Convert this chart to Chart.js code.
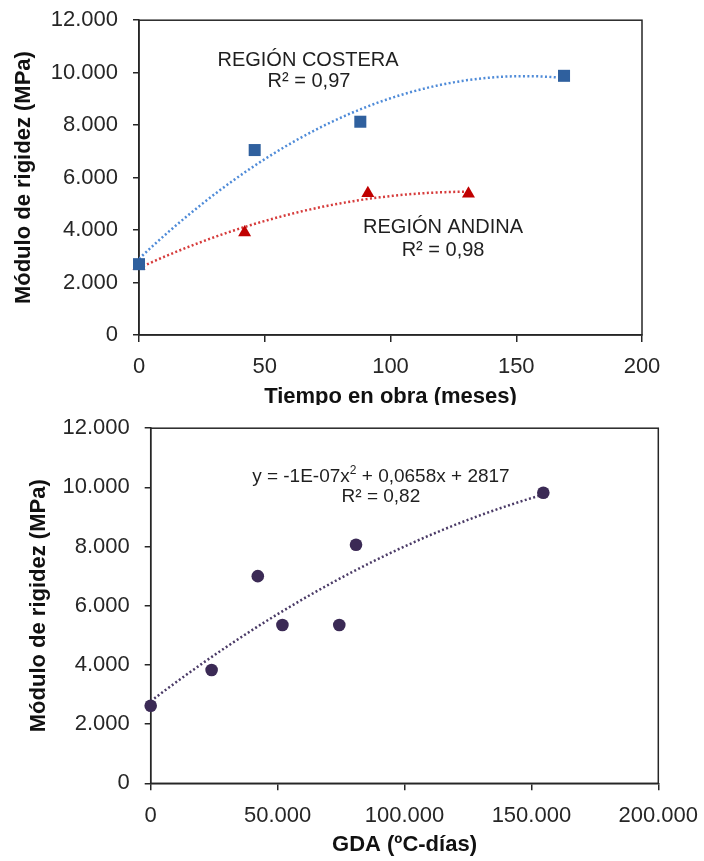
<!DOCTYPE html>
<html>
<head>
<meta charset="utf-8">
<script src="https://cdn.jsdelivr.net/npm/chart.js@4.4.1/dist/chart.umd.min.js"></script>
<style>
  body { margin: 0; background: #fff; width: 704px; height: 861px; overflow: hidden; position: relative; }
  #arriba { position: absolute; left: 0; top: 0; width: 704px; height: 405px; overflow: hidden; }
  #arriba canvas { position: absolute; left: 0; top: -8px; }
  #abajo { position: absolute; left: 0; top: 400px; width: 704px; height: 461px; overflow: hidden; }
</style>
</head>
<body>
<div id="arriba"><canvas id="tiempoChart" width="704" height="428"></canvas></div>
<div id="abajo"><canvas id="gdaChart" width="712" height="461"></canvas></div>
<script>
// Módulo de rigidez vs. tiempo en obra, por región
const mesesCostera = [0, 46, 88, 169];
const rigidezCostera = [2700, 7050, 8130, 9880];
const mesesAndina = [0, 42, 91, 131];
const rigidezAndina = [2630, 3910, 5400, 5380];

// Módulo de rigidez vs. grados-día acumulados
const gda = [0, 24000, 42200, 51900, 74300, 80900, 154700];
const rigidezGda = [2620, 3830, 7000, 5350, 5350, 8060, 9820];

const ticksMeses = [0, 50, 100, 150, 200];
const ticksGda = [0, 50000, 100000, 150000, 200000];
const ticksRigidez = [0, 2000, 4000, 6000, 8000, 10000, 12000];

const FAMILY = '"Liberation Sans", Arial, sans-serif';
const INK = '#262626';

// punto de miles como en el original: 12.000
const miles = v => String(v).replace(/\B(?=(\d{3})+(?!\d))/g, '.');

const pares = (xs, ys) => xs.map((x, i) => ({ x: x, y: ys[i] }));

// ajuste polinómico de orden 2 por mínimos cuadrados (x normalizado)
function ajusteCuadratico(xs, ys) {
  const k = Math.max(...xs);
  const t = xs.map(x => x / k);
  let s0 = t.length, s1 = 0, s2 = 0, s3 = 0, s4 = 0, sy = 0, sty = 0, st2y = 0;
  t.forEach((v, i) => {
    s1 += v; s2 += v * v; s3 += v * v * v; s4 += v * v * v * v;
    sy += ys[i]; sty += v * ys[i]; st2y += v * v * ys[i];
  });
  const det3 = m => m[0][0] * (m[1][1] * m[2][2] - m[1][2] * m[2][1])
                  - m[0][1] * (m[1][0] * m[2][2] - m[1][2] * m[2][0])
                  + m[0][2] * (m[1][0] * m[2][1] - m[1][1] * m[2][0]);
  const M = [[s4, s3, s2], [s3, s2, s1], [s2, s1, s0]];
  const r = [st2y, sty, sy];
  const D = det3(M);
  const col = j => M.map((row, i) => row.map((c, jj) => (jj === j ? r[i] : c)));
  const a = det3(col(0)) / D, b = det3(col(1)) / D, c = det3(col(2)) / D;
  return x => a * (x / k) * (x / k) + b * (x / k) + c;
}

function tendencia(xs, ys) {
  const f = ajusteCuadratico(xs, ys);
  const x0 = Math.min(...xs), x1 = Math.max(...xs);
  const out = [];
  for (let i = 0; i <= 100; i++) {
    const x = x0 + (x1 - x0) * i / 100;
    out.push({ x: x, y: f(x) });
  }
  return out;
}

// marco completo alrededor del área de trazado
const marco = {
  id: 'marco',
  beforeDatasetsDraw(chart) {
    const { ctx, chartArea: a } = chart;
    ctx.save();
    ctx.strokeStyle = INK;
    ctx.lineWidth = 1.5;
    ctx.strokeRect(a.left, a.top, a.right - a.left, a.bottom - a.top);
    ctx.restore();
  }
};

// textos sobre el gráfico, colocados en unidades de los ejes
const notas = {
  id: 'notas',
  afterDatasetsDraw(chart, args, opts) {
    const { ctx, scales } = chart;
    ctx.save();
    ctx.fillStyle = opts.color;
    ctx.textBaseline = 'middle';
    opts.items.forEach(it => {
      const cx = scales.x.getPixelForValue(it.x);
      const cy = scales.y.getPixelForValue(it.y);
      const partes = it.partes || [{ t: it.text }];
      const fuente = p => (p.sup ? Math.round(opts.size * 0.65) : opts.size) + 'px ' + FAMILY;
      let total = 0;
      partes.forEach(p => { ctx.font = fuente(p); total += ctx.measureText(p.t).width; });
      let px = cx - total / 2;
      ctx.textAlign = 'left';
      partes.forEach(p => {
        ctx.font = fuente(p);
        ctx.fillText(p.t, px, p.sup ? cy - opts.size * 0.32 : cy);
        px += ctx.measureText(p.t).width;
      });
    });
    ctx.restore();
  }
};

function ejes(cfg) {
  return {
    x: {
      type: 'linear', min: cfg.xTicks[0], max: cfg.xTicks[cfg.xTicks.length - 1],
      afterBuildTicks: a => { a.ticks = cfg.xTicks.map(v => ({ value: v })); },
      afterFit: a => { a.height = 75; },
      grid: { drawOnChartArea: false, color: INK, lineWidth: 1.5, tickLength: 7 },
      border: { color: INK, width: 1.5 },
      ticks: { color: INK, padding: 12, maxRotation: 0, font: { family: FAMILY, size: 22 }, callback: v => miles(v) },
      title: { display: true, text: cfg.xTitle, color: '#111', padding: 0,
               font: { family: FAMILY, size: 22, weight: 'bold' } }
    },
    y: {
      type: 'linear', min: 0, max: 12000,
      afterBuildTicks: a => { a.ticks = ticksRigidez.map(v => ({ value: v })); },
      afterFit: a => { a.width = cfg.yWidth; },
      grid: { drawOnChartArea: false, color: INK, lineWidth: 1.5, tickLength: 6 },
      border: { color: INK, width: 1.5 },
      ticks: { color: INK, padding: 15, font: { family: FAMILY, size: 22 }, callback: v => miles(v) },
      title: { display: true, text: 'Módulo de rigidez (MPa)', color: '#111',
               padding: { top: cfg.yTitlePad, bottom: 0 },
               font: { family: FAMILY, size: 22, weight: 'bold' } }
    }
  };
}

const comunes = {
  responsive: false,
  animation: false,
  devicePixelRatio: 1
};

new Chart(document.getElementById('tiempoChart'), {
  type: 'scatter',
  data: {
    datasets: [
      { label: 'Región costera', data: pares(mesesCostera, rigidezCostera), pointStyle: 'rect',
        pointRadius: 8.5, backgroundColor: '#2f609e', borderColor: '#2f609e', borderWidth: 0, clip: false },
      { label: 'Región andina', data: pares(mesesAndina, rigidezAndina), pointStyle: 'triangle',
        pointRadius: 7.5, backgroundColor: '#c00000', borderColor: '#c00000', borderWidth: 0, clip: false },
      { label: 'Tendencia costera', data: tendencia(mesesCostera, rigidezCostera), showLine: true,
        pointRadius: 0, borderColor: '#4f8bd8', borderWidth: 2.5, borderDash: [2, 2.4], tension: 0 },
      { label: 'Tendencia andina', data: tendencia(mesesAndina, rigidezAndina), showLine: true,
        pointRadius: 0, borderColor: '#d63b3b', borderWidth: 2.5, borderDash: [2, 2.4], tension: 0 }
    ]
  },
  options: Object.assign({}, comunes, {
    layout: { padding: { left: 0, top: 28, right: 62, bottom: 10 } },
    scales: ejes({ xTicks: ticksMeses, xTitle: 'Tiempo en obra (meses)', yWidth: 139, yTitlePad: 11 }),
    plugins: {
      legend: { display: false },
      tooltip: { enabled: false },
      notas: {
        color: '#1f1f1f', size: 20,
        items: [
          { text: 'REGIÓN COSTERA', x: 67.2, y: 10480 },
          { text: 'R² = 0,97', x: 67.6, y: 9650 },
          { text: 'REGIÓN ANDINA', x: 120.9, y: 4090 },
          { text: 'R² = 0,98', x: 120.9, y: 3240 }
        ]
      }
    }
  }),
  plugins: [marco, notas]
});

new Chart(document.getElementById('gdaChart'), {
  type: 'scatter',
  data: {
    datasets: [
      { label: 'GDA', data: pares(gda, rigidezGda), pointStyle: 'circle', pointRadius: 6.3,
        backgroundColor: '#3b2a55', borderColor: '#3b2a55', borderWidth: 0, clip: false },
      { label: 'Tendencia', data: tendencia(gda, rigidezGda), showLine: true, pointRadius: 0,
        borderColor: '#4a3a66', borderWidth: 2.5, borderDash: [2, 2.4], tension: 0 }
    ]
  },
  options: Object.assign({}, comunes, {
    layout: { padding: { left: 0, top: 27.5, right: 53.7, bottom: 2.7 } },
    scales: ejes({ xTicks: ticksGda, xTitle: 'GDA (ºC-días)', yWidth: 150.7, yTitlePad: 26 }),
    plugins: {
      legend: { display: false },
      tooltip: { enabled: false },
      notas: {
        color: '#1f1f1f', size: 19,
        items: [
          { partes: [{ t: 'y = -1E-07x' }, { t: '2', sup: true }, { t: ' + 0,0658x + 2817' }], x: 90700, y: 10360 },
          { text: 'R² = 0,82', x: 90700, y: 9690 }
        ]
      }
    }
  }),
  plugins: [marco, notas]
});
</script>
</body>
</html>
